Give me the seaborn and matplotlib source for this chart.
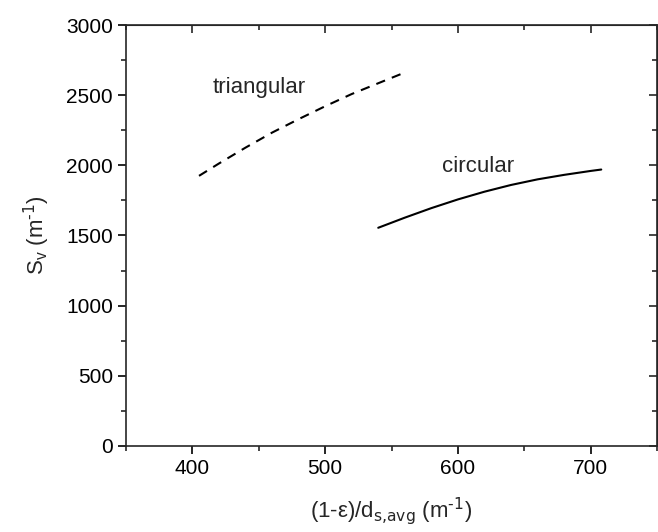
import numpy as np
import pandas as pd
import seaborn as sns
import matplotlib.pyplot as plt
from matplotlib.ticker import MultipleLocator

# values
tri_x = [405, 420, 440, 460, 480, 500, 520, 540, 557]
tri_y = [1925, 2013, 2126, 2233, 2329, 2421, 2508, 2585, 2650]
circ_x = [540, 560, 580, 600, 620, 640, 660, 680, 700, 708]
circ_y = [1555, 1627, 1695, 1757, 1812, 1860, 1900, 1932, 1960, 1970]

sns.set_style("ticks")
plt.rcParams['font.family'] = ['Liberation Sans', 'DejaVu Sans']
plt.rcParams['mathtext.default'] = 'regular'

tri = pd.DataFrame({"x": tri_x, "y": tri_y})
circ = pd.DataFrame({"x": circ_x, "y": circ_y})

fig = plt.figure(figsize=(6.58, 5.32), dpi=100)
ax = fig.add_axes([0.1915, 0.1617, 0.807, 0.7913])

sns.lineplot(data=tri, x="x", y="y", ax=ax, color="black", lw=1.5,
             linestyle=(0, (4.5, 3.5)))
sns.lineplot(data=circ, x="x", y="y", ax=ax, color="black", lw=1.5)

ax.text(415, 2480, "triangular", fontsize=16, ha="left", va="bottom")
ax.text(588, 1915, "circular", fontsize=16, ha="left", va="bottom")

ax.set_xlim(350, 750)
ax.set_ylim(0, 3000)
ax.xaxis.set_minor_locator(MultipleLocator(50))
ax.yaxis.set_major_locator(MultipleLocator(500))
ax.yaxis.set_minor_locator(MultipleLocator(250))
ax.set_xticks([400, 500, 600, 700])

for s in ax.spines.values():
    s.set_visible(True)
    s.set_linewidth(1.2)

ax.tick_params(which="major", direction="out", length=6, width=1.2,
               labelsize=15, colors="black")
ax.tick_params(which="minor", direction="out", length=3.5, width=1.2)

# mirrored inward ticks on top and right
top = ax.secondary_xaxis("top")
top.set_xticks([400, 500, 600, 700])
top.xaxis.set_minor_locator(MultipleLocator(50))
top.tick_params(which="major", direction="in", length=6, width=1.2, labeltop=False)
top.tick_params(which="minor", direction="in", length=3.5, width=1.2)
right = ax.secondary_yaxis("right")
right.yaxis.set_major_locator(MultipleLocator(500))
right.yaxis.set_minor_locator(MultipleLocator(250))
right.tick_params(which="major", direction="in", length=6, width=1.2, labelright=False)
right.tick_params(which="minor", direction="in", length=3.5, width=1.2)

ax.set_xlabel(r"(1-ε)/d$_{\text{s,avg}}$ (m$^{\text{-1}}$)", fontsize=16, labelpad=12)
ax.set_ylabel(r"S$_v$ (m$^{\text{-1}}$)", fontsize=16, labelpad=10)

fig.savefig("out.png", dpi=100)
